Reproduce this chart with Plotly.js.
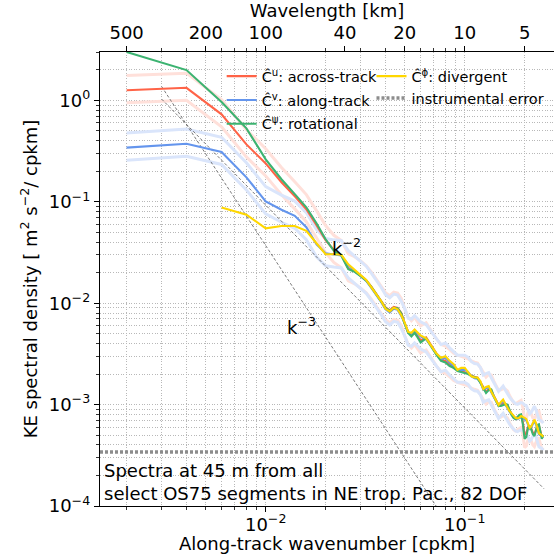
<!DOCTYPE html>
<html>
<head>
<meta charset="utf-8">
<script src="https://cdn.plot.ly/plotly-3.0.1.min.js"></script>
<style>html,body{margin:0;padding:0;background:#fff;}#chart{width:554px;height:556px;}</style>
</head>
<body>
<div id="chart"></div>
<script>
// wavenumber samples [cpkm]
const wavenumber = [0.002,0.004,0.006,0.008,0.010,0.012,0.014,0.016,0.018,0.020,
  0.022,0.024,0.026,0.028,0.030,0.032,0.034,0.036,0.038,0.040,
  0.042,0.044,0.046,0.048,0.050,0.052,0.054,0.056,0.058,0.060,
  0.064,0.068,0.072,0.076,0.080,0.084,0.088,0.092,0.096,0.100,
  0.104,0.108,0.112,0.116,0.120,0.124,0.128,0.132,0.136,0.140,
  0.144,0.148,0.152,0.156,0.160,0.164,0.168,0.172,0.176,0.180,
  0.184,0.188,0.192,0.196,0.200,0.204,0.208,0.212,0.216,0.220,
  0.224,0.228,0.232,0.236,0.240,0.244,0.248];

// across-track (u)
const specU = [1.26,1.33,0.728,0.368,0.239,0.156,0.113,0.0844,0.0587,0.0418,
  0.0335,0.0297,0.0220,0.0206,0.0187,0.0168,0.0145,0.0124,0.0106,0.0091,
  0.0085,0.0092,0.0090,0.0080,0.0063,0.0052,0.0048,0.0052,0.0047,0.0043,
  0.0046,0.0038,0.0032,0.0028,0.0027,0.0025,0.0023,0.0022,0.00212,0.00208,
  0.00203,0.00193,0.00188,0.00184,0.00166,0.00148,0.00134,0.00142,0.00140,0.00122,
  0.00108,0.00099,0.00100,0.00103,0.00102,0.00098,0.00088,0.00080,0.00075,0.00073,
  0.00075,0.00078,0.00079,0.00067,0.00050,0.00052,0.00060,0.00061,0.00058,0.00053,
  0.00051,0.00056,0.00062,0.00062,0.00055,0.00048,0.00050];

// along-track (v)
const specV = [0.342,0.374,0.310,0.174,0.101,0.0834,0.0728,0.0561,0.0381,0.0311,
  0.0302,0.0296,0.0236,0.0208,0.0186,0.0166,0.0141,0.0121,0.0103,0.0087,
  0.0081,0.0088,0.0086,0.0075,0.0063,0.0051,0.0050,0.0054,0.0050,0.0047,
  0.0044,0.0037,0.0032,0.0028,0.0029,0.0026,0.0024,0.0022,0.0022,0.0022,
  0.0021,0.0019,0.00182,0.00180,0.00166,0.00140,0.00145,0.00148,0.00132,0.00118,
  0.00106,0.00097,0.00103,0.00109,0.00100,0.00091,0.00085,0.00080,0.00076,0.00073,
  0.00072,0.00073,0.00075,0.00074,0.00071,0.00070,0.00063,0.00058,0.00060,0.00065,
  0.00069,0.00064,0.00056,0.00051,0.00050,0.00049,0.00047];

// rotational (psi)
const specPsi = [3.0,1.99,0.962,0.530,0.262,0.167,0.119,0.0883,0.0614,0.0427,
  0.0329,0.0294,0.0216,0.0204,0.0185,0.0167,0.0144,0.0123,0.0105,0.0090,
  0.0084,0.0090,0.0089,0.0079,0.0062,0.0051,0.0047,0.0051,0.0046,0.0041,
  0.0045,0.0037,0.0031,0.0027,0.0026,0.0024,0.0023,0.00214,0.00209,0.00204,
  0.00200,0.00191,0.00187,0.00182,0.00163,0.00145,0.00130,0.00139,0.00141,0.00121,
  0.00106,0.00097,0.00097,0.00100,0.00101,0.00100,0.00088,0.00079,0.00074,0.00072,
  0.00075,0.00079,0.00080,0.00064,0.00046,0.00048,0.00059,0.00061,0.00057,0.00051,
  0.00049,0.00055,0.00063,0.00064,0.00054,0.00046,0.00050];

// divergent (phi)
const specPhi = [null,null,0.0877,0.0745,0.0548,0.0578,0.0578,0.0518,0.0390,0.0304,
  0.0304,0.0300,0.0242,0.0211,0.0189,0.0169,0.0142,0.0123,0.0105,0.0088,
  0.0083,0.0090,0.0087,0.0076,0.0064,0.0052,0.0051,0.0055,0.0051,0.0048,
  0.0045,0.0038,0.0032,0.0029,0.0030,0.0027,0.0025,0.0022,0.0023,0.0023,
  0.0021,0.0019,0.00185,0.00185,0.00170,0.00142,0.00149,0.00152,0.00134,0.00120,
  0.00108,0.00099,0.00106,0.00112,0.00102,0.00093,0.00086,0.00082,0.00077,0.00074,
  0.00073,0.00074,0.00077,0.00076,0.00074,0.00072,0.00065,0.00059,0.00061,0.00067,
  0.00071,0.00066,0.00057,0.00052,0.00051,0.00050,0.00048];

// 95% confidence factors (82 DOF)
const CI_LOW = 0.753;
const CI_HIGH = 1.395;

// instrumental error level
const noiseLevel = 3.4e-4;

// reference slopes
const refK = [0.003, 0.25];
const refKm2 = [1.03, 1.483e-4];
const refKm3 = [1.37, 2.37e-6];

// axis limits [cpkm] and [m2 s-2 / cpkm]
const xLimits = [0.001470, 0.2810];
const yLimits = [1e-4, 3];

// tick labels
const yTickVals = [1e-4, 1e-3, 1e-2, 1e-1, 1];
const yTickText = ['10<sup>\u22124</sup>','10<sup>\u22123</sup>','10<sup>\u22122</sup>','10<sup>\u22121</sup>','10<sup>0</sup>'];
const xTickVals = [0.01, 0.1];
const xTickText = ['10<sup>\u22122</sup>','10<sup>\u22121</sup>'];
const wlTickVals = [0.002, 0.005, 0.01, 0.025, 0.05, 0.1, 0.2];
const wlTickText = ['500','200','100','40','20','10','5'];

const xMinor = [0.002,0.003,0.004,0.005,0.006,0.007,0.008,0.009,0.02,0.03,0.04,0.05,0.06,0.07,0.08,0.09,0.2];
const wlMinor = [0.003,0.004,0.006,0.007,0.008,0.009,0.02,0.03,0.04,0.06,0.07,0.08,0.09];
const yMinor = [];
[1e-4,1e-3,1e-2,1e-1,1].forEach(d => { for (let m = 2; m <= 9; m++) yMinor.push(m*d); });

const FONT = 'DejaVu Sans';
const RED = '#FF6347', BLUE = '#6495ED', GREEN = '#3CB371', GOLD = '#FFD700';
const RED_BAND = '#FFE0DA', BLUE_BAND = '#DAE5FB';

function band(vals, f, color) {
  return {x: wavenumber, y: vals.map(v => v == null ? null : v*f), mode:'lines',
    line:{color: color, width: 3}, showlegend:false, hoverinfo:'skip'};
}

const traces = [
  band(specU, CI_HIGH, RED_BAND),
  band(specU, CI_LOW, RED_BAND),
  band(specV, CI_HIGH, BLUE_BAND),
  band(specV, CI_LOW, BLUE_BAND),
  {x: refK, y: refKm2, mode:'lines', line:{color:'#6a6a6a', width:0.9, dash:'3px,2px'}, showlegend:false},
  {x: refK, y: refKm3, mode:'lines', line:{color:'#6a6a6a', width:0.9, dash:'3px,2px'}, showlegend:false},
  {x: wavenumber, y: specU, mode:'lines', line:{color:RED, width:2.1}, name:'C\u0302<sup>u</sup>: across-track', legend:'legend', legendgroup:'u'},
  {x: wavenumber, y: specV, mode:'lines', line:{color:BLUE, width:2.1}, name:'C\u0302<sup>v</sup>: along-track', legend:'legend', legendgroup:'v'},
  {x: wavenumber, y: specPsi, mode:'lines', line:{color:GREEN, width:2.1}, name:'C\u0302<sup>\u03c8</sup>: rotational', legend:'legend', legendgroup:'psi'},
  {x: wavenumber, y: specPhi, mode:'lines', line:{color:GOLD, width:2.1}, name:'C\u0302<sup>\u03d5</sup>: divergent', legend:'legend2', legendgroup:'phi'},
  {x: xLimits, y: [noiseLevel, noiseLevel], mode:'lines', line:{color:'#8c8c8c', width:3.5, dash:'3px,2px'}, name:'instrumental error', legend:'legend2', legendgroup:'noise'},
  {x: [0.01], y: [null], xaxis:'x2', mode:'lines', showlegend:false, hoverinfo:'skip'}
];

const gridCol = '#b8b8b8';
const gridDash = '1px,1.6px';

const layout = {
  width: 554, height: 556,
  margin: {l:100, r:0, t:52, b:50},
  paper_bgcolor:'#ffffff', plot_bgcolor:'#ffffff',
  font: {family: FONT, size: 18, color:'#000'},
  xaxis: {
    type:'log', range:[Math.log10(xLimits[0]), Math.log10(xLimits[1])],
    tickmode:'array', tickvals: xTickVals, ticktext: xTickText,
    ticks:'outside', ticklen:5, tickwidth:1, tickcolor:'#000',
    ticklabelstandoff:-3,
    showline:true, linecolor:'#000', linewidth:1.2,
    showgrid:true, gridcolor:gridCol, gridwidth:1, griddash:gridDash,
    zeroline:false, automargin:false,
    tickfont:{size:18},
    minor:{tickmode:'array', tickvals:xMinor, ticks:'outside', ticklen:3, tickcolor:'#000', tickwidth:0.8,
      showgrid:true, gridcolor:gridCol, gridwidth:1, griddash:gridDash}
  },
  xaxis2: {
    type:'log', overlaying:'x', side:'top', anchor:'y',
    range:[Math.log10(xLimits[0]), Math.log10(xLimits[1])],
    tickmode:'array', tickvals: wlTickVals, ticktext: wlTickText,
    ticks:'outside', ticklen:5, tickwidth:1, tickcolor:'#000',
    showline:true, linecolor:'#000', linewidth:1.2,
    showgrid:false, zeroline:false, automargin:false,
    tickfont:{size:18},
    minor:{tickmode:'array', tickvals:wlMinor, ticks:'outside', ticklen:3, tickcolor:'#000', tickwidth:0.8, showgrid:false},
    title:{text:'Wavelength [km]', font:{size:18}, standoff:2}
  },
  yaxis: {
    type:'log', range:[Math.log10(yLimits[0]), Math.log10(yLimits[1])],
    tickmode:'array', tickvals: yTickVals, ticktext: yTickText,
    ticks:'outside', ticklen:5, tickwidth:1, tickcolor:'#000',
    showline:true, linecolor:'#000', linewidth:1.2, mirror:true,
    showgrid:true, gridcolor:gridCol, gridwidth:1, griddash:gridDash,
    zeroline:false, automargin:false,
    tickfont:{size:18},
    minor:{tickmode:'array', tickvals:yMinor, ticks:'outside', ticklen:3, tickcolor:'#000', tickwidth:0.8,
      showgrid:true, gridcolor:gridCol, gridwidth:1, griddash:gridDash},
    title:{text:'KE spectral density [ m<sup>2</sup> s<sup>\u22122</sup>/ cpkm]', font:{size:18}, standoff:6}
  },
  legend: {
    x: 0.268, y: 0.982, xanchor:'left', yanchor:'top',
    bgcolor:'rgba(255,255,255,0)', borderwidth:0,
    font:{size:14.5, family:FONT}, traceorder:'grouped', tracegroupgap:2, itemwidth:30
  },
  legend2: {
    x: 0.598, y: 0.982, xanchor:'left', yanchor:'top',
    bgcolor:'rgba(255,255,255,0)', borderwidth:0,
    font:{size:14.5, family:FONT}, traceorder:'grouped', tracegroupgap:0, itemwidth:30
  },
  showlegend: true,
  annotations: [
    {xref:'paper', yref:'paper', x:0.5, y:-0.0815, yanchor:'middle', text:'Along-track wavenumber [cpkm]', showarrow:false, font:{size:18}},
    {xref:'paper', yref:'paper', x:0.542, y:0.570, text:'k<sup>\u22122</sup>', showarrow:false, font:{size:18}},
    {xref:'paper', yref:'paper', x:0.443, y:0.396, text:'k<sup>\u22123</sup>', showarrow:false, font:{size:18}},
    {xref:'paper', yref:'paper', x:0.004, y:0.0, xanchor:'left', yanchor:'bottom', align:'left',
      text:'Spectra at 45 m from all<br>select OS75 segments in NE trop. Pac., 82 DOF', showarrow:false, font:{size:18}}
  ]
};

Plotly.newPlot('chart', traces, layout, {staticPlot:true, displayModeBar:false});
</script>
</body>
</html>
